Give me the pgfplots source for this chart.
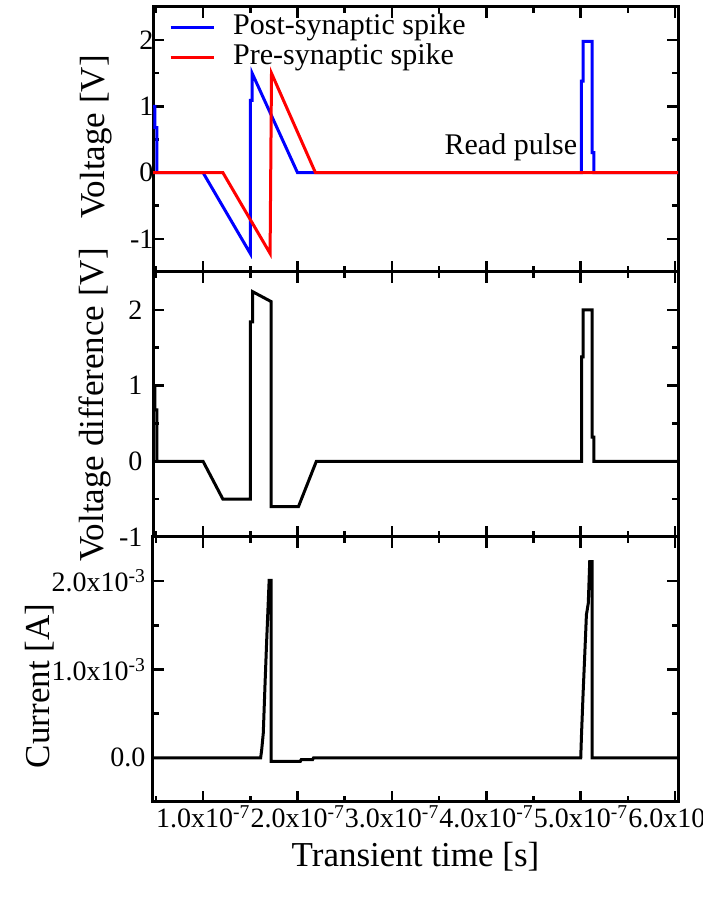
\documentclass[border=0pt]{standalone}
\usepackage{fontspec}
\setmainfont{Liberation Serif}
\usepackage{pgfplots}
\pgfplotsset{compat=1.18}

\pgfplotsset{
 panel/.style={
  scale only axis, width=525pt, height=265pt,
  xmin=0.47e-7, xmax=6.03e-7,
  xtick={1e-7,2e-7,3e-7,4e-7,5e-7,6e-7},
  minor xtick={0.5e-7,1.5e-7,2.5e-7,3.5e-7,4.5e-7,5.5e-7},
  scaled x ticks=false, scaled y ticks=false,
  tick align=inside, xtick pos=both, ytick pos=both,
  major tick length=11pt, minor tick length=6pt,
  every tick/.style={black, line width=2.5pt},
  axis line style={line width=3pt},
  tick label style={font=\fontsize{28}{30}\selectfont},
  label style={font=\fontsize{35}{38}\selectfont},
  every axis plot/.append style={line width=3pt},
 },
}

\begin{document}
\begin{tikzpicture}
% ---------- Panel 1: voltages ----------
\begin{axis}[panel, at={(153pt,630pt)}, anchor=south west,
  ymin=-1.5, ymax=2.5, ytick={-1,0,1,2}, yticklabels={-1,0,1,2},
  minor ytick={-0.5,0.5,1.5},
  xticklabels={},
  yticklabel style={xshift=4pt},
  ylabel={Voltage [V]},
  ylabel style={at={(axis description cs:-0.1086,0.509)}, anchor=center},
  legend style={at={(rel axis cs:0.0,1.0)}, anchor=north west, xshift=13pt, yshift=-3pt,
    draw=none, fill=none,
    font=\fontsize{30}{32}\selectfont, row sep=0pt, column sep=17pt,
    nodes={inner sep=1pt, text height=21pt, text depth=7pt}},
  legend cell align=left,
  legend image code/.code={\draw[#1] (0pt,0pt) -- (43pt,0pt);},
]
\addplot[blue] coordinates {
 (0.47e-7,1) (0.49e-7,1) (0.49e-7,0.68) (0.51e-7,0.68) (0.51e-7,0)
 (1.0e-7,0) (1.5e-7,-1.22) (1.5e-7,1.09) (1.52e-7,1.09) (1.52e-7,1.5)
 (2.0e-7,0) (5.007e-7,0) (5.007e-7,1.38) (5.024e-7,1.38) (5.024e-7,1.98)
 (5.12e-7,1.98) (5.12e-7,0.3) (5.14e-7,0.3) (5.14e-7,0) (6.03e-7,0)};
\addlegendentry{Post-synaptic spike}
\addplot[red] coordinates {
 (0.47e-7,0) (1.21e-7,0) (1.71e-7,-1.22) (1.725e-7,1.5) (2.19e-7,0) (6.03e-7,0)};
\addlegendentry{Pre-synaptic spike}
\node[font=\fontsize{30}{32}\selectfont] at (axis cs:4.26e-7,0.38) {Read pulse};
\end{axis}

% ---------- Panel 2: voltage difference ----------
\begin{axis}[panel, at={(153pt,365pt)}, anchor=south west,
  ymin=-1, ymax=2.5, ytick={-1,0,1,2}, yticklabels={-1,0,1,2},
  minor ytick={-0.5,0.5,1.5},
  xticklabels={},
  yticklabel style={xshift=-7pt},
  ylabel={Voltage difference [V]},
  ylabel style={at={(axis description cs:-0.110,0.498)}, anchor=center},
]
\addplot[black] coordinates {
 (0.47e-7,1) (0.49e-7,1) (0.49e-7,0.68) (0.51e-7,0.68) (0.51e-7,0)
 (1.0e-7,0) (1.21e-7,-0.5) (1.5e-7,-0.5) (1.5e-7,1.84) (1.525e-7,1.84)
 (1.525e-7,2.24) (1.72e-7,2.11) (1.72e-7,-0.6) (2.01e-7,-0.6) (2.2e-7,0)
 (5.01e-7,0) (5.01e-7,1.38) (5.025e-7,1.38) (5.025e-7,2.0) (5.12e-7,2.0)
 (5.12e-7,0.32) (5.14e-7,0.32) (5.14e-7,0) (6.03e-7,0)};
\end{axis}

% ---------- Panel 3: current ----------
\begin{axis}[panel, at={(153pt,100pt)}, anchor=south west,
  ymin=-0.5e-3, ymax=2.5e-3, ytick={0,1e-3,2e-3},
  yticklabels={0.0,1.0x10\textsuperscript{-3},2.0x10\textsuperscript{-3}},
  minor ytick={0.5e-3,1.5e-3},
  xticklabels={1.0x10\textsuperscript{-7},2.0x10\textsuperscript{-7},3.0x10\textsuperscript{-7},4.0x10\textsuperscript{-7},5.0x10\textsuperscript{-7},6.0x10\textsuperscript{-7}},
  yticklabel style={xshift=-4pt},
  xlabel={Transient time [s]},
  xlabel style={at={(axis description cs:0.5,-0.2075)}, anchor=center},
  ylabel={Current [A]},
  ylabel style={at={(axis description cs:-0.215,0.438)}, anchor=center},
]
\addplot[black] coordinates {
 (0.47e-7,0) (1.61e-7,0) (1.621e-7,0.09e-3) (1.638e-7,0.28e-3) (1.656e-7,0.82e-3)
 (1.674e-7,1.33e-3) (1.70e-7,2.01e-3) (1.72e-7,2.01e-3) (1.72e-7,-0.04e-3)
 (2.03e-7,-0.04e-3) (2.04e-7,-0.02e-3) (2.16e-7,-0.02e-3) (2.17e-7,0)
 (5.0e-7,0) (5.008e-7,0.26e-3) (5.025e-7,0.73e-3) (5.043e-7,1.18e-3)
 (5.06e-7,1.62e-3) (5.08e-7,1.75e-3) (5.095e-7,2.22e-3) (5.12e-7,2.22e-3)
 (5.12e-7,0) (6.03e-7,0)};
\end{axis}

\pgfresetboundingbox
\useasboundingbox (0pt,0pt) rectangle (703pt,902pt);
\end{tikzpicture}
\end{document}
